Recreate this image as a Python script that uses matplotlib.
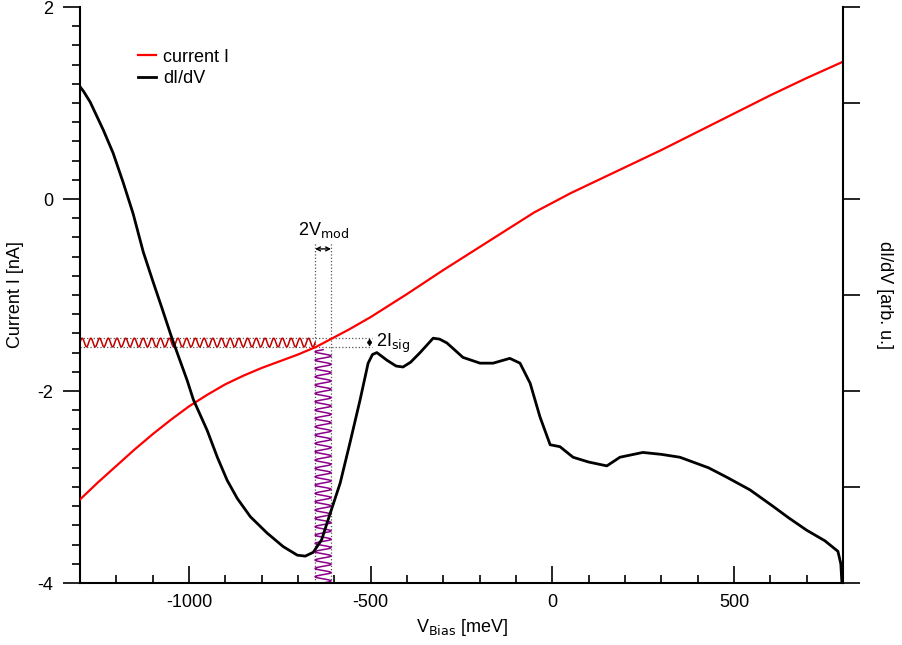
import numpy as np
import matplotlib
matplotlib.use("Agg")
import matplotlib.pyplot as plt
from matplotlib.ticker import MultipleLocator

plt.rcParams['font.family'] = ['Liberation Sans', 'DejaVu Sans']

# Current I [nA] vs bias
v_current = [-1300, -1250, -1200, -1150, -1100, -1050, -1000, -950, -900, -850,
             -800, -750, -700, -650, -605, -580, -560, -500, -400, -300,
             -200, -100, -50, 0, 50, 100, 200, 300, 400, 500, 600, 700, 800]
current = [-3.13, -2.95, -2.78, -2.61, -2.45, -2.30, -2.16, -2.04, -1.93, -1.84,
           -1.76, -1.69, -1.62, -1.54, -1.45, -1.40, -1.36, -1.23, -0.99, -0.74,
           -0.50, -0.26, -0.14, -0.04, 0.06, 0.15, 0.33, 0.51, 0.70, 0.89, 1.08, 1.26, 1.43]

# dI/dV [arb. u.] drawn on the same scale as the left axis
v_didv = [-1300, -1290, -1272, -1236, -1209, -1181, -1154, -1126, -1100, -1075,
          -1047, -1005, -988, -950, -922, -895, -867, -831, -785, -741,
          -702, -680, -658, -635, -611, -584, -557, -529, -507, -495,
          -483, -455, -430, -411, -390, -364, -328, -310, -290, -246,
          -199, -163, -117, -89, -61, -34, -6, 21, 57, 100,
          150, 186, 249, 300, 351, 387, 430, 481, 544, 607,
          650, 700, 750, 786, 794, 797]
didv = [1.17, 1.12, 1.01, 0.72, 0.48, 0.17, -0.15, -0.55, -0.85, -1.13,
        -1.45, -1.89, -2.09, -2.41, -2.69, -2.93, -3.12, -3.31, -3.48, -3.62,
        -3.71, -3.72, -3.68, -3.55, -3.27, -2.96, -2.54, -2.09, -1.71, -1.62,
        -1.60, -1.68, -1.74, -1.75, -1.70, -1.60, -1.45, -1.46, -1.50, -1.65,
        -1.71, -1.71, -1.66, -1.71, -1.92, -2.27, -2.56, -2.58, -2.69, -2.74,
        -2.78, -2.69, -2.64, -2.66, -2.69, -2.74, -2.80, -2.90, -3.03, -3.20,
        -3.32, -3.45, -3.56, -3.67, -3.80, -4.0]

# modulation sketch
v_mod_lo, v_mod_hi = -653, -609
i_sig_lo, i_sig_hi = -1.54, -1.45
n_red_periods = 27
n_purple_periods = 28

fig = plt.figure(figsize=(9.03, 6.45), dpi=100)
ax = fig.add_axes([80/903, 1-583/645, 763/903, 576/645])

# Sketch of the voltage and current modulation
v_wave = np.linspace(-1300, v_mod_lo, 1200)
i_wave = (i_sig_lo+i_sig_hi)/2 + (i_sig_hi-i_sig_lo)/2*np.sin(2*np.pi*n_red_periods*(v_wave+1300)/(v_mod_lo+1300))
ax.plot(v_wave, i_wave, color="#c00000", lw=1.1, zorder=2)
i_wave2 = np.linspace(-4, i_sig_lo - 0.03, 1200)
v_wave2 = (v_mod_lo+v_mod_hi)/2 + (v_mod_hi-v_mod_lo)/2*np.sin(2*np.pi*n_purple_periods*(i_wave2+4)/(i_sig_lo-0.03+4))
ax.plot(v_wave2, i_wave2, color="#8b008b", lw=1.1, zorder=2)

# dotted guide lines
for vv in [v_mod_lo, v_mod_hi]:
    ax.plot([vv, vv], [-4, -0.45], color="#555555", ls=":", lw=0.9, zorder=1)
for ii in [i_sig_lo, i_sig_hi]:
    ax.plot([-1300, -497], [ii, ii], color="#555555", ls=":", lw=0.9, zorder=1)

ax.plot(v_current, current, color="red", lw=1.6, label="current I", zorder=3)
ax.plot(v_didv, didv, color="black", lw=2.0, label="dI/dV", zorder=3)

# arrows and labels
ax.annotate("", xy=(v_mod_lo, -0.52), xytext=(v_mod_hi, -0.52),
            arrowprops=dict(arrowstyle="<->", lw=1.0, shrinkA=0, shrinkB=0, mutation_scale=7))
ax.text((v_mod_lo+v_mod_hi)/2, -0.43, "2V$_{\\rm mod}$", ha="center", va="bottom", fontsize=13)
ax.annotate("", xy=(-503, i_sig_lo), xytext=(-503, i_sig_hi),
            arrowprops=dict(arrowstyle="<->", lw=1.0, shrinkA=0, shrinkB=0, mutation_scale=6))
ax.text(-485, -1.50, "2I$_{\\rm sig}$", ha="left", va="center", fontsize=13)

ax.set_xlim(-1300, 800)
ax.set_ylim(-4, 2)
ax.xaxis.set_major_locator(MultipleLocator(500))
ax.xaxis.set_minor_locator(MultipleLocator(100))
ax.yaxis.set_major_locator(MultipleLocator(2))
ax.yaxis.set_minor_locator(MultipleLocator(0.2))
ax.tick_params(axis="x", which="major", direction="in", length=12, width=1.2, labelsize=13, pad=8)
ax.tick_params(axis="x", which="minor", direction="in", length=6, width=1.2)
ax.tick_params(axis="y", which="major", direction="out", length=12, width=1.2, labelsize=13, pad=7)
ax.tick_params(axis="y", which="minor", direction="out", length=6, width=1.2)
ax.spines["top"].set_visible(False)
ax.spines["right"].set_visible(False)
for s in ["left", "bottom"]:
    ax.spines[s].set_linewidth(1.5)
ax.set_xticklabels(["%d" % t for t in ax.get_xticks()])
ax.set_yticklabels(["%d" % t for t in ax.get_yticks()])
ax.set_xlabel("V$_{\\rm Bias}$ [meV]", fontsize=13, labelpad=4)
ax.set_ylabel("Current I [nA]", fontsize=13, labelpad=10)

# right axis for dI/dV, no tick labels
ax2 = ax.twinx()
ax2.set_ylim(-4, 2)
ax2.yaxis.set_major_locator(MultipleLocator(1))
ax2.tick_params(axis="y", direction="out", length=12, width=1.2, labelright=False)
ax2.spines["right"].set_linewidth(1.5)
for s in ["top", "left", "bottom"]:
    ax2.spines[s].set_visible(False)
ax2.set_ylabel("dI/dV [arb. u.]", fontsize=13, rotation=270, labelpad=24)

ax.legend(loc="upper left", bbox_to_anchor=(0.066, 0.94), frameon=False, fontsize=13,
          handlelength=1.0, handletextpad=0.4, labelspacing=0.25, borderaxespad=0)

fig.savefig("out.png", dpi=100)
